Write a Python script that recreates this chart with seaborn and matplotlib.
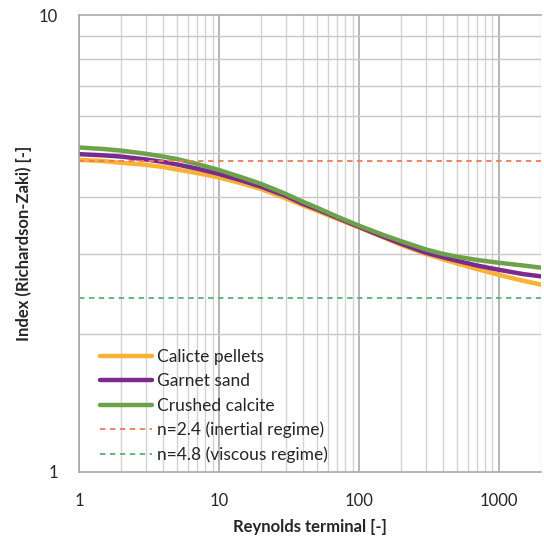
import numpy as np
import pandas as pd
import matplotlib
matplotlib.use("Agg")
import matplotlib.pyplot as plt
import matplotlib.ticker as mticker
import seaborn as sns

reynolds = [1, 1.5, 2, 3, 4, 5, 7, 10, 15, 20, 30, 40, 50, 70,
            100, 150, 200, 300, 400, 500, 700, 1000, 1500, 2000]

# Richardson-Zaki index for each material
calcite_pellets = [4.82, 4.79, 4.75, 4.70, 4.65, 4.59, 4.51, 4.41, 4.27, 4.16, 3.97, 3.83, 3.73, 3.58,
                   3.43, 3.26, 3.14, 3.00, 2.92, 2.86, 2.78, 2.70, 2.62, 2.57]
garnet_sand = [4.96, 4.93, 4.90, 4.83, 4.77, 4.71, 4.61, 4.49, 4.33, 4.21, 4.02, 3.86, 3.76, 3.60,
               3.44, 3.27, 3.16, 3.02, 2.95, 2.90, 2.83, 2.77, 2.71, 2.68]
crushed_calcite = [5.13, 5.09, 5.05, 4.97, 4.90, 4.84, 4.72, 4.58, 4.40, 4.27, 4.06, 3.90, 3.79, 3.62,
                   3.46, 3.30, 3.20, 3.07, 3.00, 2.96, 2.91, 2.87, 2.83, 2.80]

materials = ['Calicte pellets', 'Garnet sand', 'Crushed calcite']
colors = ['#F9B233', '#7D2A8E', '#6EA24A']

# reference regimes (labels as in the original)
ref_labels = ['n=2.4 (inertial regime)', 'n=4.8 (viscous regime)']
ref_values = [4.8, 2.4]
ref_colors = ['#EE7A55', '#5CB07A']

df = pd.DataFrame({
    'Re': reynolds * 3,
    'n': calcite_pellets + garnet_sand + crushed_calcite,
    'material': [m for m in materials for _ in reynolds],
})

sns.set_style('white')
plt.rcParams['font.family'] = ['Lato', 'DejaVu Sans']

fig = plt.figure(figsize=(5.44, 5.41), dpi=100)
ax = fig.add_axes([79 / 544, 1 - 472 / 541, 462 / 544, 457 / 541])

sns.lineplot(data=df, x='Re', y='n', hue='material', hue_order=materials,
             palette=colors, linewidth=3.2, errorbar=None, ax=ax)

for lab, val, col in zip(ref_labels, ref_values, ref_colors):
    ax.axhline(val, color=col, linestyle=(0, (3, 2.5)), linewidth=1.3, label=lab)

ax.set_xscale('log')
ax.set_yscale('log')
ax.set_xlim(1, 2000)
ax.set_ylim(1, 10)

ax.xaxis.set_major_locator(mticker.LogLocator(base=10, numticks=10))
ax.xaxis.set_minor_locator(mticker.LogLocator(base=10, subs=np.arange(2, 10), numticks=20))
ax.yaxis.set_major_locator(mticker.LogLocator(base=10, numticks=10))
ax.yaxis.set_minor_locator(mticker.LogLocator(base=10, subs=np.arange(2, 10), numticks=20))
fmt = mticker.FuncFormatter(lambda v, p: '%g' % v)
ax.xaxis.set_major_formatter(fmt)
ax.yaxis.set_major_formatter(fmt)
ax.xaxis.set_minor_formatter(mticker.NullFormatter())
ax.yaxis.set_minor_formatter(mticker.NullFormatter())

ax.grid(which='major', axis='x', color='#A9A9A9', linewidth=1.2)
ax.grid(which='minor', axis='x', color='#D2D2D2', linewidth=1.0)
ax.grid(which='minor', axis='y', color='#C8C8C8', linewidth=1.0)
ax.set_axisbelow(True)

for side in ['left', 'bottom', 'top']:
    ax.spines[side].set_color('#A9A9A9')
    ax.spines[side].set_linewidth(1.2)
ax.spines['right'].set_visible(False)

ax.tick_params(which='major', direction='out', length=5, width=1.2, color='#A9A9A9',
               labelsize=12, pad=10)
ax.tick_params(which='minor', length=0)
ax.tick_params(axis='y', pad=10)

ax.set_xlabel('Reynolds terminal [-]', fontsize=12, fontweight='bold', labelpad=7)
ax.set_ylabel('Index (Richardson-Zaki) [-]', fontsize=12, fontweight='bold', labelpad=5)

ax.legend(loc='lower left', frameon=False, fontsize=12.5, handlelength=3.0,
          handletextpad=0.3, labelspacing=0.47, borderaxespad=0.8,
          bbox_to_anchor=(0.0, -0.026))

fig.savefig('out.png', dpi=100)
